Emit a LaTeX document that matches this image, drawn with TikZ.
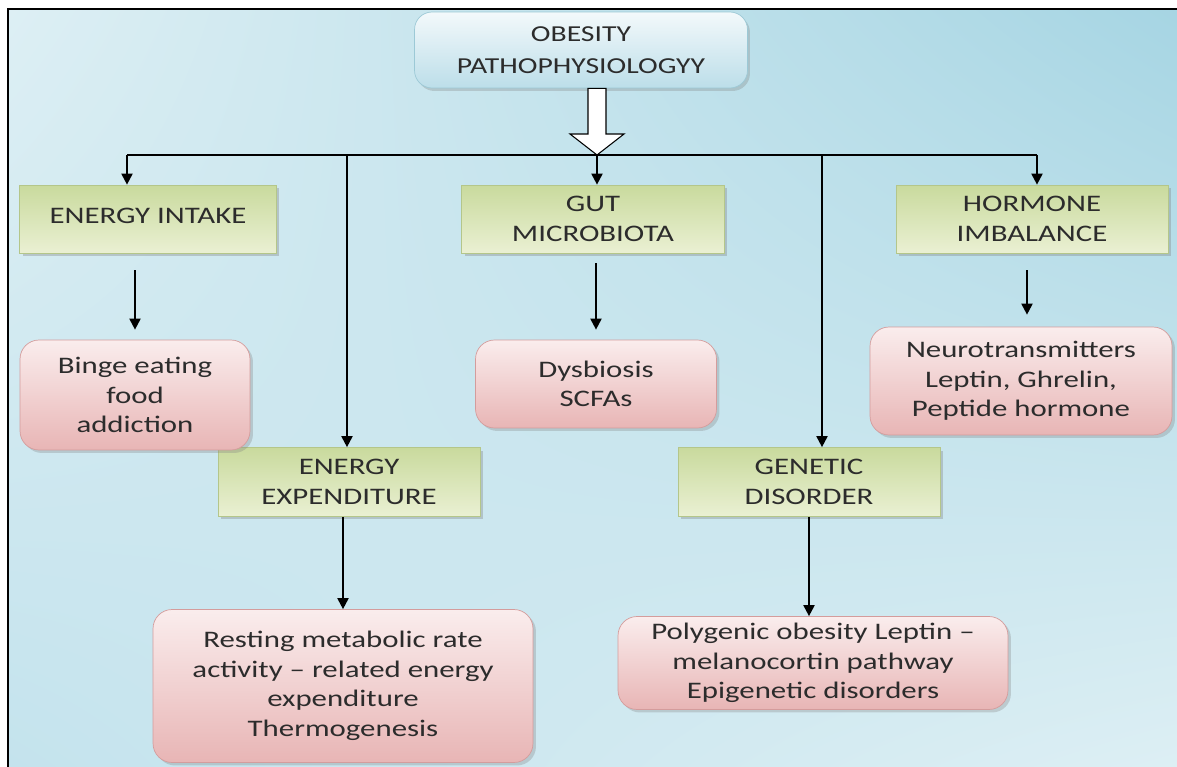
\documentclass[tikz,border=0pt]{standalone}
\usepackage{fontspec}
\setmainfont[FakeStretch=1.3]{Carlito}
\usetikzlibrary{arrows.meta,calc,positioning,shadows,shadings}
\definecolor{Ink}{HTML}{2C2C2C}
\definecolor{SkyPale}{HTML}{DDEFF4}
\definecolor{SkyDeep}{HTML}{A6D5E3}
\definecolor{SkyMid}{HTML}{C4E3ED}
\definecolor{HeadTop}{HTML}{F3F9FB}
\definecolor{HeadBottom}{HTML}{BCDEE9}
\definecolor{HeadEdge}{HTML}{9CC9D6}
\definecolor{FactorTop}{HTML}{C9DA9D}
\definecolor{FactorBottom}{HTML}{EAF0D3}
\definecolor{FactorEdge}{HTML}{B4C68A}
\definecolor{EffectTop}{HTML}{FAEDED}
\definecolor{EffectBottom}{HTML}{E8B5B5}
\definecolor{EffectEdge}{HTML}{D49C9C}
\tikzset{
  headbox/.style={
    rounded corners=0.35cm,
    draw=HeadEdge,
    top color=HeadTop,
    bottom color=HeadBottom,
    minimum width=6.66cm,
    minimum height=1.52cm,
    align=center,
    text=Ink,
    font=\fontsize{13}{18.5}\selectfont,
    drop shadow={opacity=0.3,shadow xshift=0.05cm,shadow yshift=-0.06cm}
  },
  factorbox/.style={
    draw=FactorEdge,
    top color=FactorTop,
    bottom color=FactorBottom,
    minimum height=1.36cm,
    align=center,
    text=Ink,
    font=\fontsize{13.5}{17}\selectfont,
    drop shadow={opacity=0.35,shadow xshift=0.06cm,shadow yshift=-0.06cm}
  },
  effectbox/.style={
    rounded corners=0.38cm,
    draw=EffectEdge,
    top color=EffectTop,
    bottom color=EffectBottom,
    align=center,
    text=Ink,
    font=\fontsize{13.5}{16.8}\selectfont,
    drop shadow={opacity=0.3,shadow xshift=0.06cm,shadow yshift=-0.06cm}
  },
  link/.style={
    -{Triangle[width=0.22cm,length=0.22cm]},
    line width=1.1pt,
    black
  }
}

\begin{document}
\begin{tikzpicture}[x=0.02cm,y=-0.02cm]
  \useasboundingbox (0,0) rectangle (1177,767);
  % backdrop and frame
  \fill[white] (0,0) rectangle (1177,767);
  \shade[upper left=SkyPale, upper right=SkyDeep, lower left=SkyMid, lower right=SkyPale]
    (8,9) rectangle (1177,767);
  \draw[line width=1.3pt, line cap=rect] (8,767) -- (8,9) -- (1177,9);

  % title
  \node[headbox] (title) at (581,50) {OBESITY\\PATHOPHYSIOLOGYY};

  % first row of factors
  \node[factorbox, minimum width=5.14cm, text depth=0.12cm] (intake) at (148,219) {ENERGY INTAKE};
  \node[factorbox, minimum width=5.26cm] (gut) at (593,219) {GUT\\MICROBIOTA};
  \node[factorbox, minimum width=5.44cm] (hormone) at (1032,219) {HORMONE\\IMBALANCE};

  % second row of factors
  \node[factorbox, minimum width=5.24cm, minimum height=1.38cm] (expend) at (349,482) {ENERGY\\EXPENDITURE};
  \node[factorbox, minimum width=5.24cm, minimum height=1.38cm] (genetic) at (809,482) {GENETIC\\DISORDER};

  % outcomes
  \node[effectbox, minimum width=4.6cm, minimum height=2.2cm] (binge) at (135,395) {Binge eating\\food\\addiction};
  \node[effectbox, minimum width=4.82cm, minimum height=1.76cm] (dysbiosis) at (596,384) {Dysbiosis\\SCFAs};
  \node[effectbox, minimum width=6.04cm, minimum height=2.16cm] (neuro) at (1021,381) {Neurotransmitters\\Leptin, Ghrelin,\\Peptide hormone};
  \node[effectbox, minimum width=7.6cm, minimum height=3.06cm] (resting) at (343,686) {Resting metabolic rate\\activity -- related energy\\expenditure\\Thermogenesis};
  \node[effectbox, minimum width=7.8cm, minimum height=1.86cm] (polygenic) at (813,663) {Polygenic obesity Leptin --\\melanocortin pathway\\Epigenetic disorders};

  % hollow arrow under the title
  \coordinate (tip) at (597,155);
  \draw[black, fill=white, line width=0.6pt]
    (title.south -| 588,0) -- (588,134) -- (570,134) -- (tip) -- (624,134) -- (606,134) -- (title.south -| 606,0) -- cycle;

  % branching bus
  \coordinate (busL) at (127,155);
  \coordinate (busEE) at (347,155);
  \coordinate (busGD) at (822,155);
  \coordinate (busR) at (1037,155);
  \draw[line width=1.1pt] (busL) -- (busR);
  \draw[link] (busL) -- (busL |- intake.north);
  \draw[link] (busEE) -- (busEE |- expend.north);
  \draw[link] (tip) -- (tip |- gut.north);
  \draw[link] (busGD) -- (busGD |- genetic.north);
  \draw[link] (busR) -- (busR |- hormone.north);

  % factor to outcome
  \draw[link, shorten <=0.34cm, shorten >=0.2cm] (intake.south -| binge) -- (binge.north);
  \draw[link, shorten <=0.2cm, shorten >=0.2cm] (gut.south -| dysbiosis) -- (dysbiosis.north);
  \draw[link, shorten <=0.34cm, shorten >=0.24cm] ([xshift=0.12cm]hormone.south -| neuro) -- ([xshift=0.12cm]neuro.north);
  \draw[link] (expend.south -| resting) -- (resting.north);
  \draw[link] (genetic.south) -- (genetic.south |- polygenic.north);
\end{tikzpicture}
\end{document}
